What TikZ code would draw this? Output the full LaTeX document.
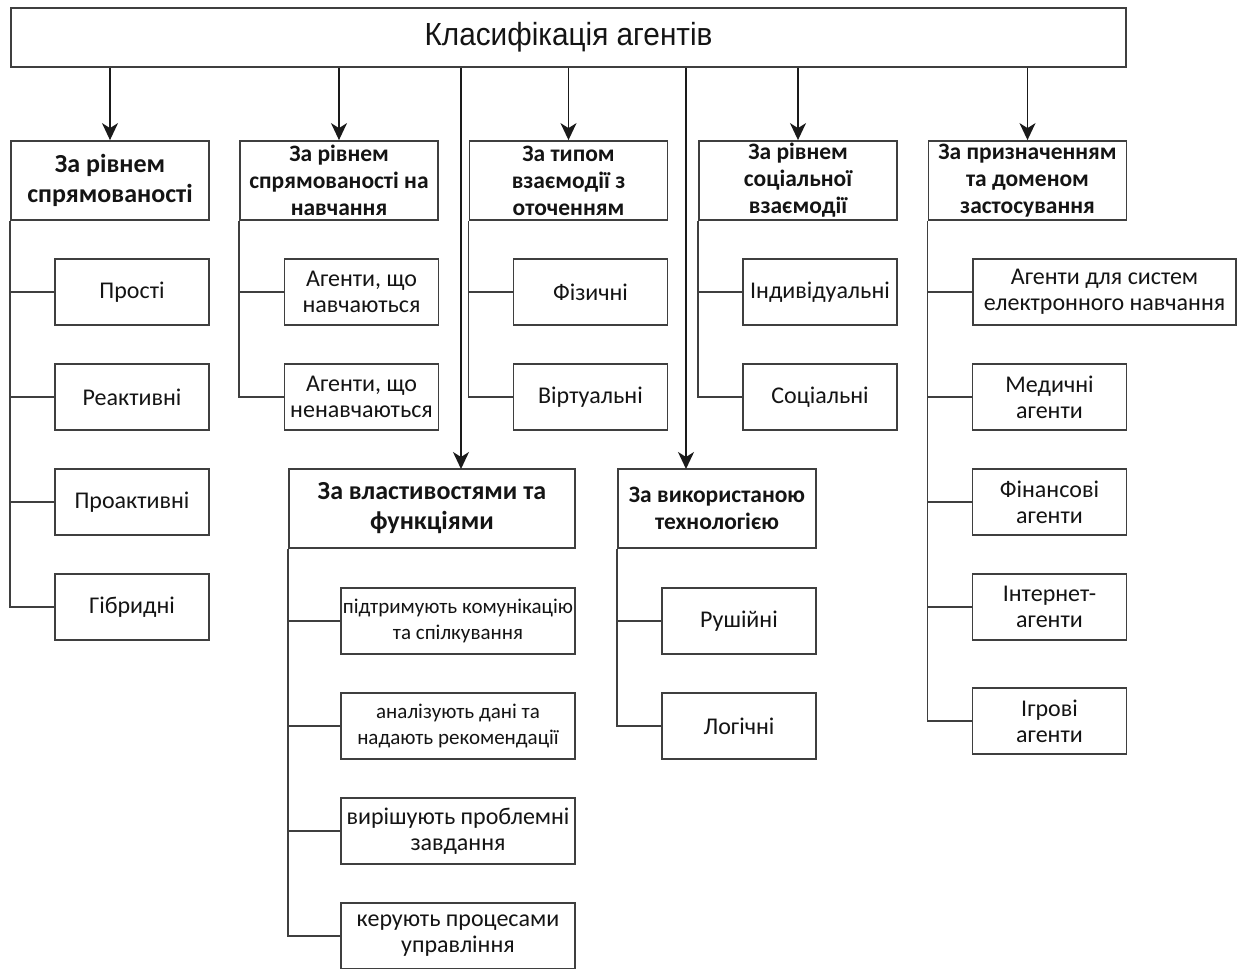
\documentclass[tikz,border=0pt]{standalone}
\usepackage{fontspec}
\setmainfont{Carlito}
\newfontfamily\titlefont{Liberation Sans}[FakeStretch=0.93]
\usetikzlibrary{arrows.meta}
\definecolor{edge}{HTML}{3F3F3F}
\definecolor{ink}{HTML}{141414}
\definecolor{tipc}{HTML}{1A1A1A}

\begin{document}
\begin{tikzpicture}[x=1pt,y=-1pt,
  box/.style={rectangle, draw=edge, line width=1.8pt, inner sep=0pt, align=center,
    text=ink, font=\fontsize{24}{26}\selectfont},
  head/.style={box, minimum width=198pt, minimum height=79pt,
    font=\bfseries\fontsize{23.5}{27}\selectfont},
  bighead/.style={font=\bfseries\fontsize{26}{30}\selectfont},
  leaf/.style={box, minimum width=154pt, minimum height=66pt},
  smallleaf/.style={leaf, minimum width=234pt, font=\fontsize{21}{26}\selectfont},
  link/.style={draw=edge, line width=1.6pt},
  arrow/.style={draw=tipc, line width=1.6pt,
    -{Stealth[length=17pt,width=16pt,inset=5pt]}}]

\useasboundingbox (0,0) rectangle (1240,969);

% root
\node[box, minimum width=1115pt, minimum height=59pt,
  font=\titlefont\fontsize{32}{36}\selectfont] (root) at (568.5,37.5) {Класифікація агентів};

% first row of criteria
\node[head, bighead] (c1) at (110,180.5) {За рівнем\\спрямованості};
\node[head] (c2) at (339,180.5) {За рівнем\\спрямованості на\\навчання};
\node[head] (c3) at (568.5,180.5) {За типом\\взаємодії з\\оточенням};
\node[head] (c4) at (798,180.5) {За рівнем\\соціальної\\взаємодії};
\node[head] (c5) at (1027.5,180.5) {За призначенням\\та доменом\\застосування};

% second row of criteria
\node[head, bighead, minimum width=286pt] (m) at (432,508.5) {За властивостями та\\функціями};
\node[head] (t) at (717,508.5) {За використаною\\технологією};

% leaves: direction
\node[leaf] (c1a) at (132,292) {Прості};
\node[leaf] (c1b) at (132,397) {Реактивні};
\node[leaf] (c1c) at (132,502) {Проактивні};
\node[leaf] (c1d) at (132,607) {Гібридні};

% leaves: learning
\node[leaf] (c2a) at (361.5,292) {Агенти, що\\навчаються};
\node[leaf] (c2b) at (361.5,397) {Агенти, що\\ненавчаються};

% leaves: environment
\node[leaf] (c3a) at (590.5,292) {Фізичні};
\node[leaf] (c3b) at (590.5,397) {Віртуальні};

% leaves: social interaction
\node[leaf] (c4a) at (820,292) {Індивідуальні};
\node[leaf] (c4b) at (820,397) {Соціальні};

% leaves: purpose and domain
\node[leaf, minimum width=263pt] (c5a) at (1104.5,292) {Агенти для систем\\електронного навчання};
\node[leaf] (c5b) at (1049.5,397) {Медичні\\агенти};
\node[leaf] (c5c) at (1049.5,502) {Фінансові\\агенти};
\node[leaf] (c5d) at (1049.5,607) {Інтернет-\\агенти};
\node[leaf] (c5e) at (1049.5,721) {Ігрові\\агенти};

% leaves: properties and functions
\node[smallleaf] (m1) at (458,621) {підтримують комунікацію\\та спілкування};
\node[smallleaf] (m2) at (458,726) {аналізують дані та\\надають рекомендації};
\node[leaf, minimum width=234pt] (m3) at (458,831) {вирішують проблемні\\завдання};
\node[leaf, minimum width=234pt] (m4) at (458,936) {керують процесами\\управління};

% leaves: technology
\node[leaf] (t1) at (739,621) {Рушійні};
\node[leaf] (t2) at (739,726) {Логічні};

% arrows from the root
\foreach \c in {c1,c2,c3,c4,c5}
  \draw[arrow] (root.south -| \c.north) -- (\c.north);
\coordinate (mTop) at (461,469);
\coordinate (tTop) at (686,469);
\draw[arrow] (root.south -| mTop) -- (mTop);
\draw[arrow] (root.south -| tTop) -- (tTop);

% trunks and branches
\draw[link] (c1.south west) |- (c1d.west);
\foreach \n in {c1a,c1b,c1c} \draw[link] (c1.south west |- \n.west) -- (\n.west);
\draw[link] (c2.south west) |- (c2b.west);
\draw[link] (c2.south west |- c2a.west) -- (c2a.west);
\draw[link] (c3.south west) |- (c3b.west);
\draw[link] (c3.south west |- c3a.west) -- (c3a.west);
\draw[link] (c4.south west) |- (c4b.west);
\draw[link] (c4.south west |- c4a.west) -- (c4a.west);
\draw[link] (c5.south west) |- (c5e.west);
\foreach \n in {c5a,c5b,c5c,c5d} \draw[link] (c5.south west |- \n.west) -- (\n.west);
\draw[link] (m.south west) |- (m4.west);
\foreach \n in {m1,m2,m3} \draw[link] (m.south west |- \n.west) -- (\n.west);
\draw[link] (t.south west) |- (t2.west);
\draw[link] (t.south west |- t1.west) -- (t1.west);

\end{tikzpicture}
\end{document}
